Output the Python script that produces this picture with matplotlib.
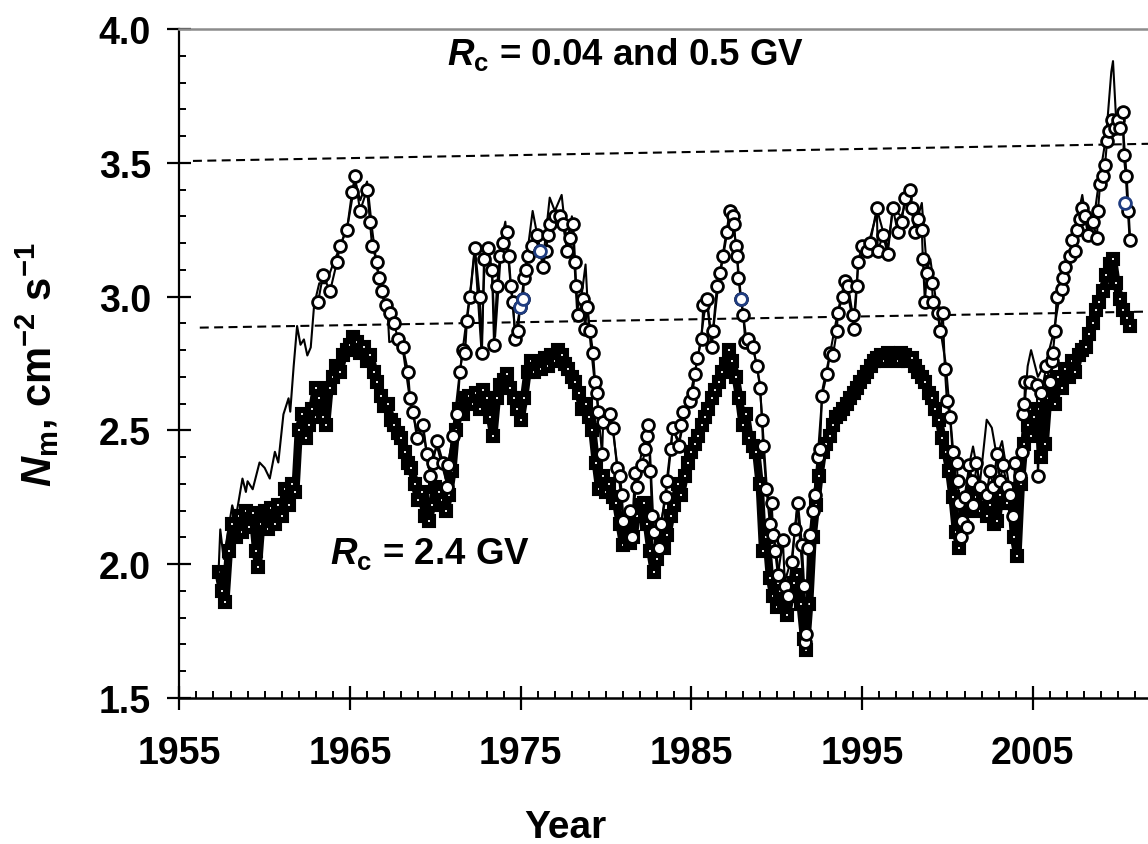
import matplotlib
matplotlib.use("Agg")
import matplotlib.pyplot as plt
from matplotlib.ticker import MultipleLocator

plt.rcParams['font.family'] = ['Liberation Sans', 'DejaVu Sans']
plt.rcParams['font.weight'] = 'bold'
plt.rcParams['mathtext.fontset'] = 'custom'
plt.rcParams['mathtext.rm'] = 'Liberation Sans:bold'
plt.rcParams['mathtext.bf'] = 'Liberation Sans:bold'
plt.rcParams['mathtext.it'] = 'Liberation Sans:italic:bold'
plt.rcParams['mathtext.default'] = 'rm'

# ---------------- data ----------------
# Rc = 2.4 GV (black band with white squares)
low_year = [1957.3, 1957.5, 1957.7, 1957.9, 1958.1, 1958.3, 1958.5, 1958.7, 1958.9, 1959.1,
            1959.3, 1959.5, 1959.6, 1959.8, 1960.0, 1960.2, 1960.4, 1960.6, 1960.8, 1961.0,
            1961.2, 1961.4, 1961.6, 1961.8, 1962.0, 1962.2, 1962.4, 1962.6, 1962.8, 1963.0,
            1963.2, 1963.4, 1963.6, 1963.8, 1964.0, 1964.2, 1964.4, 1964.6, 1964.8, 1965.0,
            1965.2, 1965.4, 1965.6, 1965.8, 1966.0, 1966.2, 1966.4, 1966.6, 1966.8, 1967.0,
            1967.2, 1967.4, 1967.6, 1967.8, 1968.0, 1968.2, 1968.4, 1968.6, 1968.8, 1969.0,
            1969.2, 1969.4, 1969.6, 1969.8, 1970.0, 1970.2, 1970.4, 1970.6, 1970.8, 1971.0,
            1971.2, 1971.4, 1971.6, 1971.8, 1972.0, 1972.2, 1972.4, 1972.6, 1972.8, 1973.0,
            1973.2, 1973.4, 1973.6, 1973.8, 1974.0, 1974.2, 1974.4, 1974.6, 1974.8, 1975.0,
            1975.2, 1975.4, 1975.6, 1975.8, 1976.0, 1976.2, 1976.4, 1976.6, 1976.8, 1977.0,
            1977.2, 1977.4, 1977.6, 1977.8, 1978.0, 1978.2, 1978.4, 1978.6, 1978.8, 1979.0,
            1979.2, 1979.4, 1979.6, 1979.8, 1980.0, 1980.2, 1980.4, 1980.6, 1980.8, 1981.0,
            1981.2, 1981.4, 1981.6, 1981.8, 1982.0, 1982.2, 1982.4, 1982.6, 1982.8, 1983.0,
            1983.2, 1983.4, 1983.6, 1983.8, 1984.0, 1984.2, 1984.4, 1984.6, 1984.8, 1985.0,
            1985.2, 1985.4, 1985.6, 1985.8, 1986.0, 1986.2, 1986.4, 1986.6, 1986.8, 1987.0,
            1987.2, 1987.4, 1987.6, 1987.8, 1988.0, 1988.2, 1988.4, 1988.6, 1988.8, 1989.0,
            1989.2, 1989.4, 1989.6, 1989.8, 1990.0, 1990.2, 1990.4, 1990.6, 1990.8, 1991.0,
            1991.2, 1991.4, 1991.6, 1991.7, 1991.9, 1992.1, 1992.3, 1992.5, 1992.7, 1992.9,
            1993.1, 1993.3, 1993.5, 1993.7, 1993.9, 1994.1, 1994.3, 1994.5, 1994.7, 1994.9,
            1995.1, 1995.3, 1995.5, 1995.7, 1995.9, 1996.1, 1996.3, 1996.5, 1996.7, 1996.9,
            1997.1, 1997.3, 1997.5, 1997.7, 1997.9, 1998.1, 1998.3, 1998.5, 1998.7, 1998.9,
            1999.1, 1999.3, 1999.5, 1999.7, 1999.9, 2000.1, 2000.3, 2000.5, 2000.7, 2000.9,
            2001.1, 2001.3, 2001.5, 2001.7, 2001.9, 2002.1, 2002.3, 2002.5, 2002.7, 2002.9,
            2003.1, 2003.3, 2003.5, 2003.7, 2003.9, 2004.1, 2004.3, 2004.5, 2004.7, 2004.9,
            2005.1, 2005.3, 2005.5, 2005.7, 2005.9, 2006.1, 2006.3, 2006.5, 2006.7, 2006.9,
            2007.1, 2007.3, 2007.5, 2007.7, 2007.9, 2008.1, 2008.3, 2008.5, 2008.7, 2008.9,
            2009.1, 2009.3, 2009.5, 2009.7, 2009.9, 2010.1, 2010.3, 2010.5, 2010.7]
low_flux = [1.97, 1.90, 1.86, 2.05, 2.15, 2.10, 2.18, 2.12, 2.20, 2.14,
            2.19, 2.05, 1.99, 2.15, 2.20, 2.13, 2.21, 2.15, 2.22, 2.18,
            2.28, 2.22, 2.30, 2.27, 2.50, 2.56, 2.47, 2.52, 2.58, 2.66,
            2.62, 2.55, 2.52, 2.66, 2.70, 2.74, 2.72, 2.78, 2.80, 2.82,
            2.85, 2.83, 2.79, 2.81, 2.76, 2.78, 2.72, 2.68, 2.63, 2.59,
            2.60, 2.54, 2.52, 2.49, 2.47, 2.42, 2.38, 2.36, 2.30, 2.24,
            2.27, 2.18, 2.16, 2.22, 2.29, 2.27, 2.24, 2.20, 2.26, 2.35,
            2.50, 2.58, 2.56, 2.62, 2.63, 2.60, 2.64, 2.58, 2.65, 2.62,
            2.55, 2.48, 2.62, 2.67, 2.69, 2.71, 2.66, 2.62, 2.58, 2.54,
            2.62, 2.72, 2.76, 2.72, 2.75, 2.73, 2.77, 2.74, 2.78, 2.76,
            2.80, 2.78, 2.75, 2.73, 2.70, 2.68, 2.64, 2.58, 2.60, 2.55,
            2.50, 2.38, 2.28, 2.33, 2.27, 2.30, 2.25, 2.23, 2.15, 2.07,
            2.12, 2.08, 2.10, 2.18, 2.22, 2.23, 2.15, 2.05, 1.97, 2.02,
            2.08, 2.06, 2.11, 2.18, 2.22, 2.30, 2.26, 2.33, 2.38, 2.42,
            2.45, 2.48, 2.52, 2.55, 2.58, 2.62, 2.65, 2.68, 2.72, 2.75,
            2.80, 2.76, 2.70, 2.62, 2.52, 2.56, 2.47, 2.44, 2.42, 2.30,
            2.05, 2.10, 1.95, 1.88, 1.84, 1.90, 1.86, 1.81, 1.88, 1.93,
            1.96, 1.85, 1.72, 1.68, 1.85, 2.10, 2.22, 2.33, 2.42, 2.45,
            2.48, 2.52, 2.55, 2.56, 2.58, 2.60, 2.62, 2.64, 2.66, 2.68,
            2.70, 2.72, 2.74, 2.76, 2.77, 2.78, 2.76, 2.79, 2.77, 2.78,
            2.76, 2.79, 2.78, 2.76, 2.77, 2.74, 2.72, 2.70, 2.68, 2.64,
            2.62, 2.58, 2.54, 2.47, 2.42, 2.35, 2.25, 2.12, 2.06, 2.14,
            2.20, 2.22, 2.28, 2.25, 2.20, 2.24, 2.18, 2.22, 2.15, 2.16,
            2.26, 2.23, 2.23, 2.28, 2.10, 2.03, 2.30, 2.45, 2.52, 2.48,
            2.55, 2.58, 2.40, 2.45, 2.62, 2.68, 2.60, 2.70, 2.66, 2.73,
            2.70, 2.76, 2.72, 2.78, 2.80, 2.81, 2.86, 2.90, 2.95, 2.98,
            3.02, 3.08, 3.12, 3.14, 3.05, 2.99, 2.95, 2.92, 2.89]

# Rc = 0.04 GV (open circles)
high_year = [1963.13, 1963.42, 1963.83, 1964.24, 1964.41, 1964.82, 1965.12, 1965.29, 1965.59, 1966.00,
             1966.17, 1966.29, 1966.58, 1966.70, 1966.87, 1967.10, 1967.34, 1967.60, 1967.80, 1968.10,
             1968.40, 1968.52, 1968.69, 1968.93, 1969.28, 1969.51, 1969.69, 1969.86, 1970.10, 1970.45,
             1970.68, 1970.74, 1971.03, 1971.27, 1971.44, 1971.62, 1971.74, 1971.85, 1972.03, 1972.32,
             1972.60, 1972.73, 1972.85, 1973.08, 1973.32, 1973.44, 1973.61, 1973.79, 1973.96, 1974.20,
             1974.30, 1974.43, 1974.55, 1974.67, 1974.84, 1974.96, 1975.14, 1975.20, 1975.30, 1975.42,
             1975.66, 1975.95, 1976.13, 1976.30, 1976.48, 1976.60, 1976.72, 1977.01, 1977.31, 1977.48,
             1977.72, 1977.89, 1978.07, 1978.19, 1978.25, 1978.36, 1978.66, 1978.77, 1978.89, 1979.07,
             1979.24, 1979.36, 1979.48, 1979.54, 1979.77, 1979.83, 1980.24, 1980.41, 1980.65, 1980.82,
             1980.93, 1981.00, 1981.40, 1981.50, 1981.70, 1981.80, 1982.10, 1982.30, 1982.40, 1982.45,
             1982.60, 1982.70, 1982.80, 1983.10, 1983.20, 1983.50, 1983.60, 1983.80, 1983.90, 1984.30,
             1984.40, 1984.50, 1984.90, 1985.07, 1985.20, 1985.35, 1985.60, 1985.70, 1985.90, 1986.20,
             1986.26, 1986.50, 1986.70, 1986.86, 1987.10, 1987.27, 1987.43, 1987.50, 1987.60, 1987.68,
             1987.75, 1987.90, 1988.04, 1988.16, 1988.33, 1988.60, 1988.84, 1989.02, 1989.14, 1989.20,
             1989.40, 1989.60, 1989.70, 1989.80, 1989.90, 1990.07, 1990.36, 1990.48, 1990.65, 1990.90,
             1991.07, 1991.24, 1991.48, 1991.60, 1991.66, 1991.72, 1991.83, 1991.95, 1992.12, 1992.24,
             1992.41, 1992.53, 1992.65, 1992.94, 1993.12, 1993.29, 1993.52, 1993.58, 1993.87, 1994.00,
             1994.17, 1994.46, 1994.52, 1994.70, 1994.76, 1995.00, 1995.29, 1995.47, 1995.86, 1995.92,
             1996.22, 1996.50, 1996.80, 1997.10, 1997.33, 1997.50, 1997.80, 1997.90, 1998.10, 1998.27,
             1998.50, 1998.56, 1998.68, 1998.80, 1999.09, 1999.15, 1999.44, 1999.56, 1999.73, 1999.85,
             1999.97, 2000.15, 2000.30, 2000.55, 2000.60, 2000.70, 2000.77, 2000.88, 2001.00, 2001.16,
             2001.28, 2001.46, 2001.50, 2001.70, 2001.90, 2002.30, 2002.50, 2002.67, 2002.90, 2003.08,
             2003.25, 2003.50, 2003.66, 2003.84, 2003.96, 2004.25, 2004.36, 2004.43, 2004.50, 2004.55,
             2004.83, 2005.24, 2005.30, 2005.50, 2005.80, 2006.00, 2006.10, 2006.18, 2006.30, 2006.40,
             2006.70, 2006.77, 2006.89, 2007.20, 2007.30, 2007.46, 2007.58, 2007.76, 2007.88, 2008.06,
             2008.23, 2008.50, 2008.76, 2008.82, 2008.94, 2009.10, 2009.23, 2009.35, 2009.46, 2009.64,
             2009.80, 2009.98, 2010.10, 2010.28, 2010.33, 2010.45, 2010.57, 2010.68]
high_flux = [2.98, 3.08, 3.02, 3.13, 3.19, 3.25, 3.39, 3.45, 3.32, 3.40,
             3.28, 3.19, 3.13, 3.07, 3.02, 2.97, 2.94, 2.90, 2.84, 2.81,
             2.72, 2.62, 2.57, 2.47, 2.52, 2.41, 2.33, 2.38, 2.46, 2.38,
             2.29, 2.37, 2.48, 2.56, 2.72, 2.80, 2.79, 2.91, 3.00, 3.18,
             3.00, 2.79, 3.14, 3.18, 3.10, 2.82, 3.04, 3.15, 3.20, 3.24,
             3.15, 3.04, 2.98, 2.84, 2.87, 2.96, 2.99, 3.07, 3.10, 3.15,
             3.19, 3.23, 3.17, 3.11, 3.17, 3.23, 3.27, 3.30, 3.30, 3.27,
             3.17, 3.22, 3.27, 3.13, 3.04, 2.93, 2.99, 2.88, 2.96, 2.87,
             2.79, 2.68, 2.64, 2.57, 2.41, 2.53, 2.56, 2.51, 2.36, 2.33,
             2.26, 2.16, 2.20, 2.10, 2.34, 2.29, 2.37, 2.43, 2.48, 2.52,
             2.35, 2.18, 2.12, 2.06, 2.15, 2.25, 2.31, 2.43, 2.51, 2.44,
             2.52, 2.57, 2.61, 2.64, 2.71, 2.77, 2.84, 2.97, 2.99, 2.81,
             2.87, 3.04, 3.09, 3.15, 3.24, 3.32, 3.30, 3.27, 3.19, 3.15,
             3.07, 2.99, 2.93, 2.83, 2.84, 2.81, 2.74, 2.66, 2.54, 2.44,
             2.28, 2.15, 2.23, 2.11, 2.05, 1.96, 2.09, 1.92, 1.88, 2.01,
             2.13, 2.23, 2.07, 1.92, 1.71, 1.74, 2.06, 2.11, 2.20, 2.26,
             2.40, 2.43, 2.63, 2.71, 2.79, 2.78, 2.87, 2.94, 3.00, 3.06,
             3.04, 2.93, 2.88, 3.04, 3.13, 3.19, 3.17, 3.20, 3.33, 3.17,
             3.23, 3.16, 3.33, 3.24, 3.28, 3.37, 3.40, 3.33, 3.24, 3.29,
             3.25, 3.14, 2.98, 3.09, 3.05, 2.98, 2.94, 2.87, 2.94, 2.73,
             2.61, 2.55, 2.42, 2.38, 2.31, 2.23, 2.10, 2.16, 2.25, 2.14,
             2.37, 2.31, 2.22, 2.38, 2.29, 2.26, 2.35, 2.29, 2.41, 2.31,
             2.37, 2.29, 2.26, 2.18, 2.38, 2.33, 2.42, 2.56, 2.60, 2.68,
             2.68, 2.67, 2.33, 2.64, 2.74, 2.68, 2.76, 2.79, 2.87, 3.00,
             3.03, 3.07, 3.11, 3.15, 3.21, 3.17, 3.25, 3.29, 3.33, 3.30,
             3.23, 3.28, 3.22, 3.32, 3.42, 3.45, 3.49, 3.58, 3.62, 3.66,
             3.63, 3.66, 3.63, 3.69, 3.53, 3.45, 3.32, 3.21]

# highlighted (blue) circles
blue_year = [1974.96, 1975.14, 1976.13, 1987.90, 2010.40]
blue_flux = [2.96, 2.99, 3.17, 2.99, 3.35]

# Rc = 0.5 GV (thin line)
mid_year = [1957.3, 1957.4, 1957.6, 1958.1, 1958.3, 1958.7, 1958.9, 1959.0, 1959.3, 1959.7,
            1960.0, 1960.3, 1960.6, 1960.8, 1961.1, 1961.4, 1961.5, 1961.7, 1961.9, 1962.1,
            1962.3, 1962.5, 1962.7, 1962.9, 1963.2, 1963.6, 1964.0, 1964.5, 1964.9, 1965.3,
            1965.6, 1966.0, 1966.3, 1966.6, 1966.9, 1967.2, 1967.3, 1967.8, 1968.1, 1968.5,
            1968.9, 1969.3, 1969.6, 1970.1, 1970.6, 1971.0, 1971.4, 1971.8, 1972.1, 1972.3,
            1972.7, 1972.9, 1973.3, 1973.5, 1973.9, 1974.1, 1974.4, 1974.7, 1975.0, 1975.3,
            1975.7, 1976.0, 1976.3, 1976.7, 1977.0, 1977.4, 1977.7, 1978.0, 1978.3, 1978.6,
            1978.8, 1979.0, 1979.3, 1979.6, 1980.0, 1980.4, 1980.8, 1981.0, 1981.5, 1981.8,
            1982.2, 1982.5, 1982.8, 1983.1, 1983.5, 1983.9, 1984.3, 1984.9, 1985.4, 1985.9,
            1986.2, 1986.6, 1987.0, 1987.3, 1987.6, 1987.9, 1988.2, 1988.6, 1989.0, 1989.4,
            1989.8, 1990.1, 1990.5, 1990.9, 1991.2, 1991.6, 1991.7, 1992.0, 1992.4, 1992.7,
            1993.1, 1993.6, 1994.0, 1994.5, 1994.8, 1995.3, 1995.9, 1996.5, 1996.8, 1997.3,
            1997.8, 1998.1, 1998.5, 1998.8, 1999.0, 1999.4, 1999.9, 2000.3, 2000.7, 2001.0,
            2001.3, 2001.5, 2001.9, 2002.3, 2002.6, 2002.9, 2003.2, 2003.6, 2003.9, 2004.3,
            2004.7, 2004.9, 2005.3, 2005.8, 2006.2, 2006.7, 2007.2, 2007.9, 2008.2, 2008.6,
            2008.9, 2009.3, 2009.6, 2009.7, 2009.9, 2010.2, 2010.5, 2010.7]
mid_flux = [1.97, 2.13, 2.02, 2.22, 2.17, 2.32, 2.27, 2.31, 2.28, 2.38,
            2.36, 2.32, 2.42, 2.38, 2.56, 2.62, 2.57, 2.74, 2.89, 2.82,
            2.84, 2.78, 2.81, 2.97, 3.05, 3.05, 3.12, 3.20, 3.28, 3.43,
            3.36, 3.43, 3.25, 3.10, 3.00, 2.95, 2.83, 2.84, 2.80, 2.62,
            2.50, 2.50, 2.36, 2.44, 2.32, 2.47, 2.70, 2.90, 3.05, 3.18,
            2.80, 3.15, 3.12, 2.85, 3.22, 3.28, 3.05, 2.86, 2.97, 3.12,
            3.32, 3.22, 3.13, 3.37, 3.32, 3.38, 3.20, 3.30, 2.95, 3.02,
            3.12, 2.88, 2.70, 2.55, 2.52, 2.50, 2.30, 2.18, 2.12, 2.33,
            2.45, 2.52, 2.12, 2.08, 2.28, 2.50, 2.46, 2.62, 2.78, 3.00,
            2.83, 3.06, 3.22, 3.34, 3.20, 3.00, 2.85, 2.82, 2.68, 2.30,
            2.12, 1.98, 1.94, 2.03, 2.22, 1.90, 1.73, 2.12, 2.40, 2.66,
            2.78, 2.95, 3.06, 2.90, 3.14, 3.18, 3.32, 3.18, 3.33, 3.30,
            3.40, 3.26, 3.35, 3.10, 3.14, 2.95, 2.75, 2.45, 2.12, 2.25,
            2.38, 2.44, 2.30, 2.54, 2.51, 2.40, 2.46, 2.30, 2.20, 2.40,
            2.74, 2.80, 2.70, 2.76, 2.86, 3.05, 3.17, 3.38, 3.25, 3.30,
            3.44, 3.60, 3.84, 3.88, 3.64, 3.70, 3.45, 3.22]

# dashed reference lines: (start year, end year), (start value, end value)
upper_ref_year = [1955.8, 2011.75]
upper_ref_flux = [3.507, 3.571]
lower_ref_year = [1956.2, 2011.75]
lower_ref_flux = [2.884, 2.944]

x_ticks = [1955, 1965, 1975, 1985, 1995, 2005]
y_ticks = [1.5, 2.0, 2.5, 3.0, 3.5, 4.0]

# ---------------- figure ----------------
W, H = 1148, 845
fig = plt.figure(figsize=(W / 100, H / 100), dpi=100)
x0, x1 = 179.3, 1148
y0, y1 = 30, 699
ax = fig.add_axes([x0 / W, 1 - y1 / H, (x1 - x0) / W, (y1 - y0) / H])
ax.set_xlim(1955, 2011.75)
ax.set_ylim(1.5, 4.0)

# series
ax.plot(low_year, low_flux, '-', color='black', lw=6, zorder=2)
ax.plot(low_year, low_flux, 's', ms=6.0, mfc='white', mec='black', mew=4.4, zorder=3)
ax.plot(mid_year, mid_flux, '-', color='black', lw=1.5, zorder=4)
ax.plot(high_year, high_flux, '-', color='black', lw=1.5, zorder=5)
ax.plot(high_year, high_flux, 'o', ms=8.5, mfc='white', mec='black', mew=2.0, zorder=6)
ax.plot(blue_year, blue_flux, 'o', ms=8.5, mfc='white', mec='#1f3c80', mew=2.0, zorder=7)

ax.plot(upper_ref_year, upper_ref_flux, color='black', lw=1.5, dashes=(4.3, 2.6), zorder=1)
ax.plot(lower_ref_year, lower_ref_flux, color='black', lw=1.5, dashes=(4.3, 2.6), zorder=1)

# spines
ax.spines['right'].set_visible(False)
ax.spines['top'].set_color('#8c8c8c')
ax.spines['top'].set_linewidth(1.8)
ax.spines['left'].set_linewidth(1.6)
ax.spines['bottom'].set_linewidth(1.8)

# ticks
ax.set_xticks(x_ticks)
ax.set_xticklabels([str(t) for t in x_ticks])
ax.set_yticks(y_ticks)
ax.set_yticklabels(['%.1f' % t for t in y_ticks])
ax.xaxis.set_minor_locator(MultipleLocator(1))
ax.yaxis.set_minor_locator(MultipleLocator(0.1))
ax.tick_params(axis='both', which='major', direction='inout', length=17, width=1.6,
               labelsize=27, color='black')
ax.tick_params(axis='x', which='major', pad=18)
ax.tick_params(axis='y', which='major', pad=12)
ax.tick_params(axis='both', which='minor', direction='in', length=5, width=1.4)
for lab in ax.get_xticklabels() + ax.get_yticklabels():
    lab.set_fontweight('bold')

# annotations
ax.text(1970.68, 3.907, r'$\mathit{R}_\mathrm{c}$' + ' = 0.04 and 0.5 GV', fontsize=26.5,
        fontweight='bold', ha='left', va='center')
ax.text(1963.83, 2.041, r'$\mathit{R}_\mathrm{c}$' + ' = 2.4 GV', fontsize=26.5,
        fontweight='bold', ha='left', va='center')

fig.text(38 / W, 1 - 365 / H, r'$\mathit{N}_\mathrm{m}$, cm$^{-2}$ s$^{-1}$', rotation=90,
         fontsize=30, fontweight='bold', ha='center', va='center')
fig.text(565 / W, 1 - 828 / H, 'Year', fontsize=28, fontweight='bold', ha='center', va='center')

fig.savefig('out.png', dpi=100)
